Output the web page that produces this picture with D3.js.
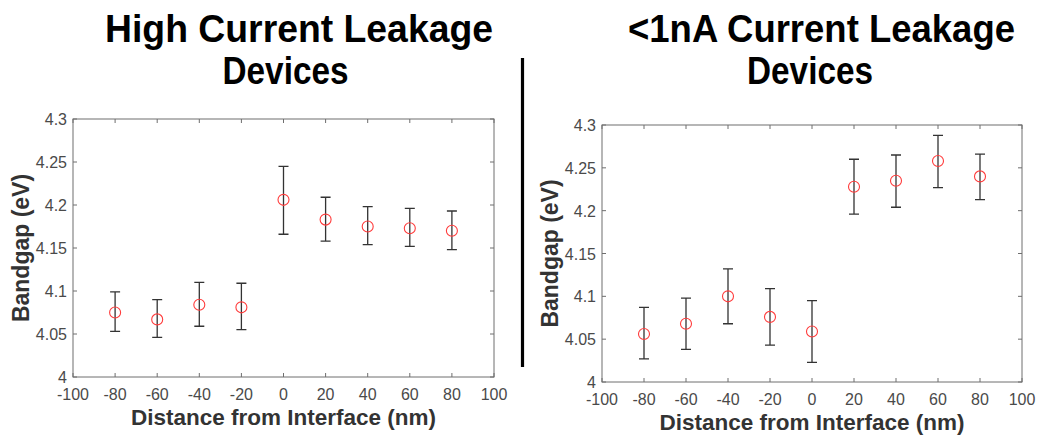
<!DOCTYPE html>
<html>
<head>
<meta charset="utf-8">
<script src="https://cdn.jsdelivr.net/npm/d3@7"></script>
<style>
  body { margin: 0; background: #fff; }
  svg { display: block; }
</style>
</head>
<body>
<div class="chart"></div>
<script>
// distances from interface (nm)
var distances = [-80, -60, -40, -20, 0, 20, 40, 60, 80];

// high leakage devices
var highMean  = [4.075, 4.067, 4.084, 4.081, 4.206, 4.183, 4.175, 4.173, 4.170];
var highLower = [4.053, 4.046, 4.059, 4.055, 4.166, 4.158, 4.154, 4.152, 4.148];
var highUpper = [4.099, 4.090, 4.110, 4.109, 4.245, 4.209, 4.198, 4.196, 4.193];

// <1nA devices
var lowMean  = [4.056, 4.068, 4.100, 4.076, 4.059, 4.228, 4.235, 4.258, 4.240];
var lowLower = [4.027, 4.038, 4.068, 4.043, 4.023, 4.196, 4.204, 4.227, 4.213];
var lowUpper = [4.087, 4.098, 4.132, 4.109, 4.095, 4.260, 4.265, 4.288, 4.266];

var xTicks = [-100, -80, -60, -40, -20, 0, 20, 40, 60, 80, 100];
var yTicks = [4, 4.05, 4.1, 4.15, 4.2, 4.25, 4.3];

var svg = d3.select(".chart").append("svg")
    .attr("width", 1038)
    .attr("height", 436);

var drawPanel = function (box, mean, lower, upper) {
    var x = d3.scaleLinear().domain([-100, 100]).range([box.left, box.right]);
    var y = d3.scaleLinear().domain([4, 4.3]).range([box.bottom, box.top]);
    var g = svg.append("g");

    // frame
    g.append("rect")
        .attr("x", box.left).attr("y", box.top)
        .attr("width", box.right - box.left)
        .attr("height", box.bottom - box.top)
        .attr("fill", "none").attr("stroke", "#6e6e6e").attr("stroke-width", 1);

    // ticks, inward on all four sides
    var tl = 4;
    g.selectAll(".xt").data(xTicks).enter().append("path")
        .attr("d", function (d) {
            var px = x(d);
            return "M" + px + "," + box.bottom + "v" + (-tl) + "M" + px + "," + box.top + "v" + tl;
        })
        .attr("stroke", "#6e6e6e");
    g.selectAll(".yt").data(yTicks).enter().append("path")
        .attr("d", function (d) {
            var py = y(d);
            return "M" + box.left + "," + py + "h" + tl + "M" + box.right + "," + py + "h" + (-tl);
        })
        .attr("stroke", "#6e6e6e");

    g.selectAll(".xl").data(xTicks).enter().append("text")
        .attr("x", function (d) { return x(d); })
        .attr("y", box.bottom + 23)
        .attr("text-anchor", "middle")
        .attr("font-family", "Liberation Sans, Arial, sans-serif")
        .attr("font-size", 16)
        .attr("fill", "#4a4a4a")
        .text(function (d) { return d; });
    g.selectAll(".yl").data(yTicks).enter().append("text")
        .attr("x", box.left - 6)
        .attr("y", function (d) { return y(d) + 6; })
        .attr("text-anchor", "end")
        .attr("font-family", "Liberation Sans, Arial, sans-serif")
        .attr("font-size", 16)
        .attr("fill", "#4a4a4a")
        .text(function (d) { return d; });

    // axis labels
    g.append("text")
        .attr("x", (box.left + box.right) / 2)
        .attr("y", box.bottom + 48)
        .attr("text-anchor", "middle")
        .attr("font-family", "Liberation Sans, Arial, sans-serif")
        .attr("font-weight", "bold")
        .attr("font-size", 22.5)
        .attr("fill", "#333")
        .text("Distance from Interface (nm)");
    g.append("text")
        .attr("transform", "translate(" + (box.left - 44) + "," + ((box.top + box.bottom) / 2) + ") rotate(-90)")
        .attr("text-anchor", "middle")
        .attr("font-family", "Liberation Sans, Arial, sans-serif")
        .attr("font-weight", "bold")
        .attr("font-size", 23)
        .attr("fill", "#333")
        .text("Bandgap (eV)");

    // error bars
    var cap = 5;
    g.selectAll(".eb").data(distances).enter().append("path")
        .attr("d", function (d, i) {
            var px = x(d), t = y(upper[i]), b = y(lower[i]);
            return "M" + px + "," + t + "V" + b +
                "M" + (px - cap) + "," + t + "h" + (2 * cap) +
                "M" + (px - cap) + "," + b + "h" + (2 * cap);
        })
        .attr("fill", "none")
        .attr("stroke", "#333")
        .attr("stroke-width", 1.3);

    // markers
    g.selectAll(".pt").data(distances).enter().append("circle")
        .attr("cx", function (d) { return x(d); })
        .attr("cy", function (d, i) { return y(mean[i]); })
        .attr("r", 5.5)
        .attr("fill", "none")
        .attr("stroke", "#ff3b3b")
        .attr("stroke-width", 1.1);
};

drawPanel({ left: 73, right: 494, top: 119, bottom: 377 }, highMean, highLower, highUpper);
drawPanel({ left: 602, right: 1022, top: 125, bottom: 382 }, lowMean, lowLower, lowUpper);

// titles
var title = function (txt, cx, by, w) {
    svg.append("text")
        .attr("x", cx - w / 2)
        .attr("y", by)
        .attr("textLength", w)
        .attr("lengthAdjust", "spacingAndGlyphs")
        .attr("font-family", "Liberation Sans, Arial, sans-serif")
        .attr("font-weight", "bold")
        .attr("font-size", 38)
        .attr("fill", "#000")
        .text(txt);
};
title("High Current Leakage", 299, 42, 388);
title("Devices", 285.5, 84, 126);
title("<1nA Current Leakage", 821.5, 42, 387);
title("Devices", 810, 84, 126);

// divider
svg.append("line")
    .attr("x1", 522.5).attr("x2", 522.5)
    .attr("y1", 58).attr("y2", 367)
    .attr("stroke", "#000").attr("stroke-width", 3.2);
</script>
</body>
</html>
